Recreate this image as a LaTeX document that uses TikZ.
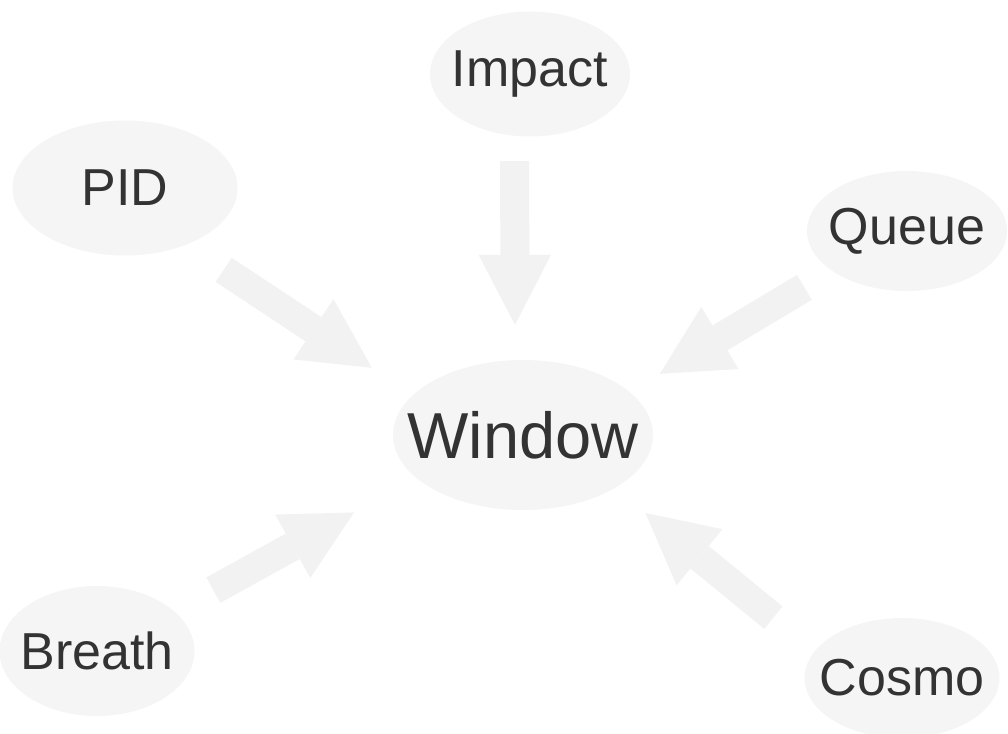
\documentclass[tikz,border=0pt]{standalone}
\usepackage{fontspec}
\setmainfont{Liberation Sans}
\usetikzlibrary{arrows.meta,shapes.geometric}
\tikzset{
  bubble/.style={ellipse, fill=black!4, draw=none, inner sep=0pt, text=black!80,
    font=\fontsize{29.6}{34}\selectfont},
  hub/.style={bubble, font=\fontsize{37}{42}\selectfont},
  feed/.style={-{Triangle[length=1.4cm, width=1.45cm, line width=0pt]}, line width=0.58cm, color=black!5}
}

\begin{document}
\begin{tikzpicture}[x=0.02cm,y=-0.02cm]
\useasboundingbox (0,0) rectangle (1008,734);

% ---------------- Source bubbles ----------------
\node[bubble, minimum width=4cm, minimum height=2.5cm] (impact) at (530,74) {\makebox[0pt]{Impact}};
\node[bubble, minimum width=4.5cm, minimum height=2.7cm] (pid) at (125,188) {\makebox[0pt]{PID}};
\node[bubble, minimum width=4cm, minimum height=2.4cm] (queue) at (907,231) {\makebox[0pt]{Queue}};
\node[bubble, minimum width=3.9cm, minimum height=2.6cm] (breath) at (97,651) {\makebox[0pt]{Breath}};
\node[bubble, minimum width=3.9cm, minimum height=2.4cm] (cosmo) at (902,678) {\makebox[0pt]{Cosmo}};

% ---------------- Centre bubble ----------------
\node[hub, minimum width=5.2cm, minimum height=3cm] (win) at (523,435) {\makebox[0pt]{Window}};

% ---------------- Block arrows ----------------
\draw[feed, shorten <=0.5cm, shorten >=0.7cm] (impact.-104) -- (win.96);
\draw[feed, shorten <=0.9cm, shorten >=0.98cm] (pid.-43.5) -- (win.160);
\draw[feed, shorten <=0.64cm, shorten >=0.7cm] (queue.-152) -- (win.22);
\draw[feed, shorten <=0.88cm, shorten >=1.42cm] (breath.27) -- (win.-158);
\draw[feed, shorten <=1.06cm, shorten >=0.78cm] (cosmo.163) -- (win.-30);

\end{tikzpicture}
\end{document}
